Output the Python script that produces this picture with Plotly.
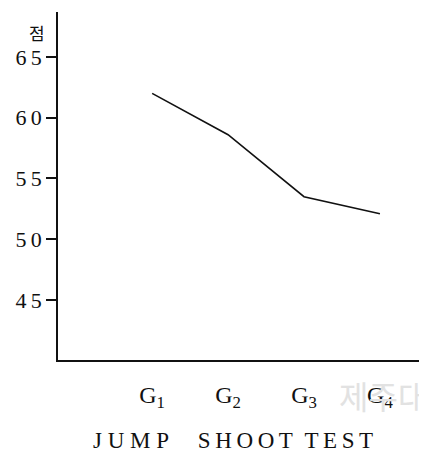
import plotly.graph_objects as go

# group scores (점) for the jump shoot test
groups = [1, 2, 3, 4]
group_labels = ["G<sub>1</sub>", "G<sub>2</sub>", "G<sub>3</sub>", "G<sub>4</sub>"]
scores = [62.0, 58.6, 53.5, 52.1]
y_ticks = [45, 50, 55, 60, 65]
y_tick_text = ["4\u20095", "5\u20090", "5\u20095", "6\u20090", "6\u20095"]

SERIF = "Liberation Serif"
NB = "\u00a0"
TS = "\u2009"
x_title = (NB.join("JUMP") + NB * 5 + TS.join("SHOOT") + NB * 2 + TS.join("TEST"))

X_RANGE = [-0.24, 4.62]
Y_RANGE = [40.06, 68.7]

fig = go.Figure()
fig.add_trace(go.Scatter(x=groups, y=scores, mode="lines",
                         line=dict(color="#111111", width=1.6),
                         showlegend=False, hoverinfo="skip"))
# tick marks crossing the y axis line (plotly ticks only go one side)
fig.add_trace(go.Scatter(x=[X_RANGE[0] - 0.04] * len(y_ticks), y=y_ticks,
                         mode="markers", cliponaxis=False,
                         marker=dict(symbol="line-ew", size=13,
                                     line=dict(color="#111111", width=1.5)),
                         showlegend=False, hoverinfo="skip"))

# the page body has an 8px margin, so the figure is shrunk by that much
fig.update_layout(
    width=419, height=452,
    margin=dict(l=50, r=0, t=4, b=100),
    paper_bgcolor="white", plot_bgcolor="white",
    font=dict(family=SERIF, color="#111111", size=20),
    xaxis=dict(range=X_RANGE, tickvals=groups, ticktext=group_labels,
               showline=True, linecolor="#111111", linewidth=1.6,
               showgrid=False, zeroline=False, ticks="outside", ticklen=12,
               tickcolor="rgba(0,0,0,0)",
               tickfont=dict(family=SERIF, size=24, color="#111111")),
    yaxis=dict(range=Y_RANGE, tickvals=y_ticks, ticktext=y_tick_text,
               showline=True, linecolor="#111111", linewidth=1.6,
               showgrid=False, zeroline=False,
               ticks="outside", ticklen=10, tickwidth=1.5, tickcolor="#111111",
               tickfont=dict(family=SERIF, size=22, color="#111111")),
    annotations=[
        dict(text="점", xref="paper", yref="paper", x=-0.057, y=0.94,
             xanchor="center", yanchor="middle", showarrow=False,
             font=dict(family="Noto Sans CJK KR", size=17, color="#111111")),
        dict(text=x_title, xref="paper", yref="paper", x=0.474, y=-0.23,
             xanchor="center", yanchor="middle", showarrow=False,
             font=dict(family=SERIF, size=23, color="#111111")),
        # faint library watermark from the scan
        dict(text="제주대", xref="paper", yref="paper", x=0.755, y=-0.10,
             xanchor="left", yanchor="middle", showarrow=False,
             font=dict(family="Noto Sans CJK KR", size=32, color="#e2e2e2")),
    ],
)

fig.write_html("out.html")
